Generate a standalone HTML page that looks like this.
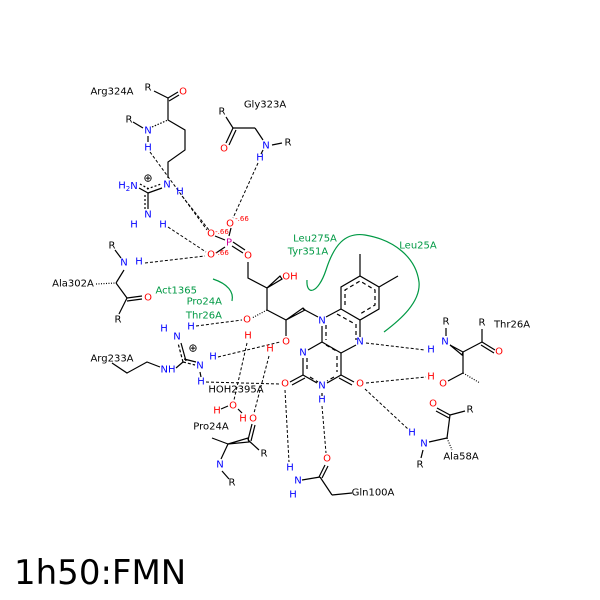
<!DOCTYPE html>
<html><head><meta charset="utf-8"><style>
html,body{margin:0;padding:0;background:#fff;width:600px;height:600px;overflow:hidden}
svg{display:block}
text{font-family:"DejaVu Sans","Liberation Sans",sans-serif;font-size:10px;text-anchor:middle;dominant-baseline:central}
.b{fill:#0000ff}.r{fill:#ff0000}.k{fill:#000}.g{fill:#009944}.m{fill:#cc0099}
.s{font-size:7px}
line,polyline,path{stroke:#000;stroke-width:1.2;fill:none}
.d{stroke-dasharray:3,2;stroke-width:1}
.gr{stroke:#009944;stroke-width:1.2}
.rg{stroke:#333;stroke-width:1.5}
.in{stroke:#333;stroke-dasharray:4,3}
</style></head><body>
<svg width="600" height="600" viewBox="0 0 600 600">
<rect width="600" height="600" fill="#fff"/>
<g class="d" stroke="#000">
<line x1="150" y1="152" x2="207" y2="230" class="d"/>
<line x1="182" y1="196" x2="209" y2="230" class="d"/>
<line x1="258" y1="163" x2="233" y2="218" class="d"/>
<line x1="168" y1="227" x2="206" y2="252" class="d"/>
<line x1="145" y1="263" x2="205" y2="256" class="d"/>
<line x1="196" y1="326" x2="242" y2="320" class="d"/>
<line x1="218" y1="357" x2="280" y2="342" class="d"/>
<line x1="206" y1="382" x2="280" y2="384" class="d"/>
<line x1="247" y1="343" x2="234" y2="400" class="d"/>
<line x1="269" y1="356" x2="254" y2="413" class="d"/>
<line x1="285" y1="390" x2="289" y2="462" class="d"/>
<line x1="322" y1="406" x2="326" y2="453" class="d"/>
<line x1="366" y1="383" x2="426" y2="377" class="d"/>
<line x1="365" y1="389" x2="408" y2="429" class="d"/>
<line x1="366" y1="343" x2="425" y2="350" class="d"/>
</g>
<path class="gr" d="M213,279 C228,284 234,292 232,301"/>
<path class="gr" d="M307,280 C306,296 318,294 326,270 C334,245 345,232 365,235 C395,240 416,258 419,282 C421,302 400,320 384,332"/>
<!-- Arg324A -->
<line x1="154" y1="91" x2="168" y2="98"/>
<line x1="168" y1="98" x2="178" y2="92"/><line x1="169" y1="101" x2="179" y2="95"/>
<line x1="168" y1="98" x2="168" y2="120"/>
<line x1="133" y1="122" x2="143" y2="128"/>
<line x1="152" y1="127" x2="168" y2="120" stroke-dasharray="1.5,1.5"/>
<line x1="148" y1="136" x2="148" y2="142"/>
<polyline points="168,120 185,130 185,150 168,162 168,178"/>
<line x1="139" y1="188" x2="148" y2="193"/>
<line x1="140" y1="184" x2="149" y2="189" stroke-dasharray="2,2"/>
<line x1="148" y1="193" x2="162" y2="188"/>
<line x1="147" y1="189" x2="161" y2="184" stroke-dasharray="2,2"/>
<line x1="148" y1="193" x2="148" y2="209"/>
<line x1="145" y1="195" x2="145" y2="209" stroke-dasharray="2,2"/>
<!-- Gly323A -->
<line x1="226" y1="117" x2="233" y2="128"/>
<line x1="233" y1="128" x2="226" y2="143"/><line x1="236" y1="130" x2="229" y2="145"/>
<line x1="233" y1="128" x2="255" y2="128"/>
<line x1="255" y1="128" x2="263" y2="140"/>
<line x1="272" y1="145" x2="282" y2="143"/>
<line x1="263" y1="150" x2="261" y2="154"/>
<!-- Ala302A -->
<line x1="115" y1="250" x2="121" y2="258"/>
<line x1="124" y1="270" x2="116" y2="283"/>
<line x1="96" y1="284" x2="116" y2="283" stroke-dasharray="1,1.5"/>
<line x1="116" y1="283" x2="127" y2="298"/>
<line x1="127" y1="298" x2="142" y2="296"/><line x1="127" y1="301" x2="142" y2="299"/>
<line x1="127" y1="298" x2="119" y2="314"/>
<!-- Arg233A -->
<polyline points="112,363 127,373 147,362 160,367"/>
<line x1="176" y1="368" x2="183" y2="362"/>
<line x1="183" y1="362" x2="178" y2="343" stroke-dasharray="3,2"/>
<line x1="186" y1="361" x2="181" y2="343"/>
<line x1="183" y1="362" x2="195" y2="365" stroke-dasharray="3,2"/>
<line x1="184" y1="359" x2="196" y2="362"/>
<line x1="200" y1="372" x2="201" y2="377"/>
<!-- phosphate / ribityl -->
<line x1="215" y1="236" x2="225" y2="240" stroke="#c09"/>
<line x1="231" y1="228" x2="229" y2="236" stroke="#c09"/>
<line x1="216" y1="253" x2="225" y2="247" stroke="#c09"/>
<line x1="233" y1="242" x2="245" y2="250" stroke="#c09"/><line x1="232" y1="246" x2="243" y2="253" stroke="#c09"/>
<polyline points="248,262 248,278 267,288 267,310"/>
<path d="M267,288 L282,279 L280,276 Z" fill="#000"/>
<line x1="267" y1="310" x2="252" y2="318" stroke-dasharray="1,1.5"/>
<polyline points="267,310 286,320 286,336"/>
<path d="M286,320 L305,310 L303,308 Z" fill="#000"/>
<line x1="303" y1="309" x2="318" y2="317"/>
<g class="rg">
<polyline points="341,309 341,287 360,276 379,287 379,309 360,320 341,309"/>
<line x1="341" y1="309" x2="326" y2="317"/>
<line x1="322" y1="326" x2="322" y2="342"/>
<line x1="322" y1="342" x2="341" y2="353"/>
<line x1="341" y1="353" x2="356" y2="345"/>
<line x1="360" y1="320" x2="360" y2="337"/>
<line x1="322" y1="342" x2="308" y2="350"/>
<line x1="303" y1="358" x2="303" y2="375"/>
<line x1="303" y1="375" x2="317" y2="383"/>
<line x1="327" y1="383" x2="341" y2="375"/>
<line x1="341" y1="375" x2="341" y2="353"/>
<line x1="360" y1="276" x2="360" y2="254"/>
<line x1="379" y1="287" x2="398" y2="276"/>
<line x1="303" y1="375" x2="290" y2="382"/><line x1="305" y1="378" x2="292" y2="385"/>
<line x1="341" y1="375" x2="354" y2="382"/><line x1="339" y1="378" x2="352" y2="385"/>
<line x1="322" y1="393" x2="322" y2="396"/>
</g>
<g class="in">
<polyline points="345,305 345,290 360,281 375,290 375,305 360,314"/>
<line x1="326" y1="325" x2="326" y2="340"/>
<line x1="337" y1="314" x2="355" y2="324"/>
<line x1="356" y1="324" x2="356" y2="340"/>
<line x1="326" y1="345" x2="338" y2="352"/>
<line x1="307" y1="358" x2="307" y2="372"/>
<line x1="337" y1="356" x2="337" y2="372"/>
<line x1="310" y1="377" x2="318" y2="382"/>
<line x1="334" y1="377" x2="327" y2="381"/>
</g>
<!-- Thr26A -->
<line x1="446" y1="328" x2="446" y2="336"/>
<path d="M450,345 L463,352 L462,355 Z" fill="#000"/>
<line x1="463" y1="352" x2="482" y2="342"/>
<line x1="482" y1="329" x2="482" y2="342"/>
<line x1="482" y1="342" x2="495" y2="350"/><line x1="481" y1="345" x2="494" y2="353"/>
<line x1="463" y1="352" x2="463" y2="373"/>
<line x1="463" y1="373" x2="448" y2="381"/>
<line x1="463" y1="373" x2="480" y2="383" stroke-dasharray="1,1.5"/>
<!-- Ala58A -->
<line x1="437" y1="408" x2="450" y2="415"/><line x1="436" y1="411" x2="449" y2="418"/>
<line x1="450" y1="415" x2="465" y2="411"/>
<line x1="450" y1="415" x2="447" y2="438"/>
<line x1="429" y1="442" x2="447" y2="438"/>
<line x1="447" y1="438" x2="452" y2="450" stroke-dasharray="1,1.5"/>
<line x1="423" y1="450" x2="421" y2="458"/>
<!-- Gln100A -->
<line x1="325" y1="465" x2="319" y2="477"/><line x1="328" y1="466" x2="322" y2="478"/>
<line x1="320" y1="477" x2="302" y2="480"/>
<line x1="320" y1="477" x2="332" y2="495"/>
<line x1="332" y1="495" x2="352" y2="493"/>
<!-- Pro24A -->
<line x1="212" y1="438" x2="228" y2="444"/>
<path d="M228,444 L248,438 L249,442 Z" fill="#000"/>
<line x1="248" y1="440" x2="252" y2="424"/><line x1="251" y1="441" x2="255" y2="425"/>
<line x1="248" y1="440" x2="259" y2="450"/>
<line x1="228" y1="444" x2="221" y2="459"/>
<line x1="222" y1="471" x2="229" y2="479"/>
<line x1="221" y1="409" x2="228" y2="406"/>
<line x1="238" y1="409" x2="242" y2="413"/>

<text x="112" y="92" class="k">Arg324A</text>
<text x="148" y="88">R</text>
<text x="183" y="92" class="r">O</text>
<text x="129" y="120">R</text>
<text x="148" y="131" class="b">N</text>
<text x="148" y="148" class="b">H</text>
<text x="148" y="178" style="font-size:11px">⊕</text>
<text x="128" y="186" class="b">H<tspan style="font-size:7px" dy="3">2</tspan><tspan dy="-3">N</tspan></text>
<text x="167" y="185" class="b">N</text>
<text x="180" y="192" class="b">H</text>
<text x="148" y="215" class="b">N</text>
<text x="134" y="225" class="b">H</text>
<text x="163" y="225" class="b">H</text>
<text x="265" y="105">Gly323A</text>
<text x="222" y="112">R</text>
<text x="224" y="149" class="r">O</text>
<text x="266" y="146" class="b">N</text>
<text x="288" y="143">R</text>
<text x="260" y="158" class="b">H</text>
<text x="211" y="234" class="r">O</text><text x="222" y="232" class="r s">-.66</text>
<text x="230" y="224" class="r">O</text><text x="242" y="219" class="r s">-.66</text>
<text x="229" y="243" class="m">P</text>
<text x="211" y="255" class="r">O</text><text x="222" y="253" class="r s">-.66</text>
<text x="248" y="256" class="r">O</text>
<text x="290" y="277" class="r">OH</text>
<text x="247" y="320" class="r">O</text>
<text x="248" y="336" class="r">H</text>
<text x="286" y="342" class="r">O</text>
<text x="270" y="349" class="r">H</text>
<text x="112" y="246">R</text>
<text x="124" y="263" class="b">N</text>
<text x="139" y="262" class="b">H</text>
<text x="73" y="284">Ala302A</text>
<text x="148" y="298" class="r">O</text>
<text x="118" y="320">R</text>
<text x="197" y="291" class="g" style="text-anchor:end">Act1365</text>
<text x="222" y="302" class="g" style="text-anchor:end">Pro24A</text>
<text x="222" y="316" class="g" style="text-anchor:end">Thr26A</text>
<text x="315" y="239" class="g">Leu275A</text>
<text x="308" y="252" class="g">Tyr351A</text>
<text x="418" y="246" class="g">Leu25A</text>
<text x="164" y="329" class="b">H</text>
<text x="177" y="337" class="b">N</text>
<text x="191" y="327" class="b">H</text>
<text x="193" y="348" style="font-size:11px">⊕</text>
<text x="112" y="359">Arg233A</text>
<text x="168" y="370" class="b">NH</text>
<text x="200" y="366" class="b">N</text>
<text x="213" y="357" class="b">H</text>
<text x="201" y="382" class="b">H</text>
<text x="236" y="390">HOH2395A</text>
<text x="233" y="406" class="r">O</text>
<text x="217" y="411" class="r">H</text>
<text x="243" y="419" class="r">H</text>
<text x="322" y="321" class="b">N</text>
<text x="303" y="353" class="b">N</text>
<text x="360" y="342" class="b">N</text>
<text x="322" y="386" class="b">N</text>
<text x="322" y="400" class="b">H</text>
<text x="285" y="384" class="r">O</text>
<text x="360" y="384" class="r">O</text>
<text x="446" y="322">R</text>
<text x="482" y="323">R</text>
<text x="512" y="325">Thr26A</text>
<text x="445" y="342" class="b">N</text>
<text x="431" y="350" class="b">H</text>
<text x="499" y="352" class="r">O</text>
<text x="443" y="384" class="r">O</text>
<text x="431" y="377" class="r">H</text>
<text x="433" y="404" class="r">O</text>
<text x="470" y="410">R</text>
<text x="412" y="433" class="b">H</text>
<text x="424" y="444" class="b">N</text>
<text x="420" y="465">R</text>
<text x="461" y="457">Ala58A</text>
<text x="327" y="459" class="r">O</text>
<text x="290" y="468" class="b">H</text>
<text x="298" y="481" class="b">N</text>
<text x="293" y="495" class="b">H</text>
<text x="373" y="493">Gln100A</text>
<text x="211" y="427">Pro24A</text>
<text x="253" y="419" class="r">O</text>
<text x="264" y="454">R</text>
<text x="220" y="465" class="b">N</text>
<text x="232" y="483">R</text>
<text x="14" y="573" style="font-size:34px;text-anchor:start;font-family:'DejaVu Sans',sans-serif">1h50:FMN</text>
</svg>
</body></html>
